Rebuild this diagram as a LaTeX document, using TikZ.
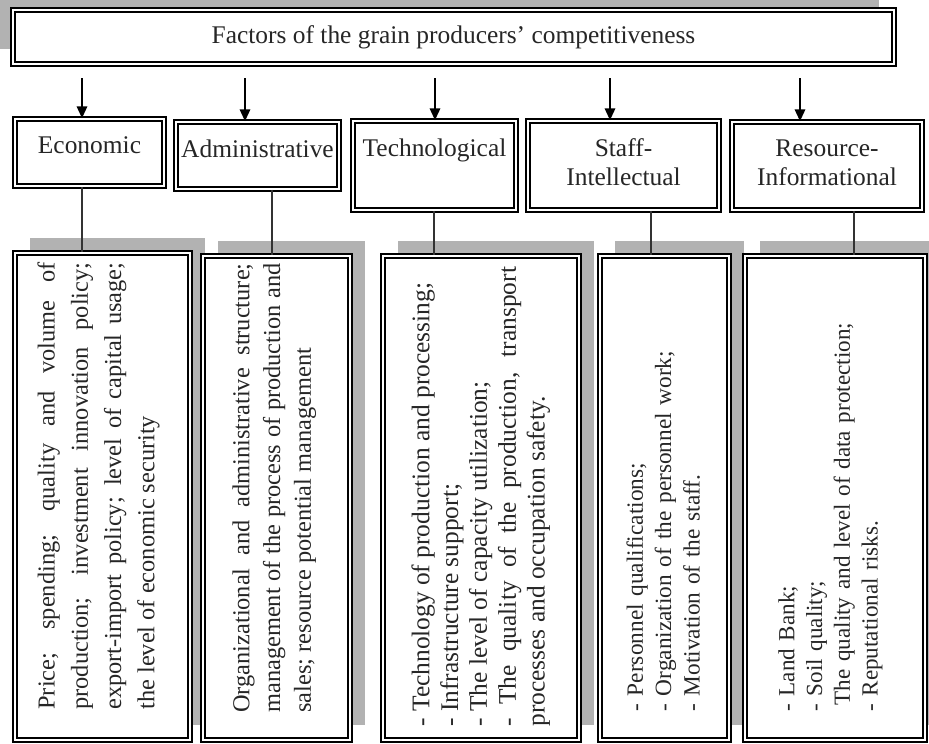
\documentclass[tikz,border=0pt]{standalone}
\usepackage{fontspec}
\setmainfont{Liberation Serif}
\usetikzlibrary{arrows.meta,positioning,fit,shadows}
\hyphenpenalty=10000
\exhyphenpenalty=10000

\tikzset{
  box/.style={draw=black, double=white, line width=0.9pt, double distance=1.2pt, fill=white, inner sep=0pt},
  headbox/.style={box, drop shadow={shadow xshift=-7pt, shadow yshift=7pt, fill=black!30, opacity=1}},
  listbox/.style={box, drop shadow={shadow xshift=7pt, shadow yshift=7pt, fill=black!30, opacity=1}},
  grptext/.style={inner sep=0pt, align=center, font=\fontsize{12pt}{13.8pt}\selectfont, text=black!85},
  detail/.style n args={3}{rotate=90, anchor=north west, inner sep=0pt, text width=#1, align=justify,
    font=\fontsize{#2}{#3}\selectfont, text=black!85},
  arr/.style={-{Triangle[width=5pt,length=5.5pt]}, line width=0.6pt},
  link/.style={line width=0.6pt, black!80}
}

\begin{document}
\begin{tikzpicture}[x=0.472pt,y=-0.472pt]
  \useasboundingbox (0,0) rectangle (929,743);

  % heading
  \node[headbox, minimum width=415.8pt, minimum height=25.5pt,
        font=\fontsize{12pt}{14pt}\selectfont, text=black!85] (title) at (453.5,37)
    {Factors of the grain producers' competitiveness};

  % groups of factors
  \node[box, fit={(15,119) (164,186)}] (econ) {};
  \node[box, fit={(176,122) (339,189)}] (admin) {};
  \node[box, fit={(353,121) (516,210)}] (tech) {};
  \node[box, fit={(528,121) (719,210)}] (staff) {};
  \node[box, fit={(732,122) (922,210)}] (res) {};

  \node[grptext, below=8.5pt of econ.north] (econt) {Economic};
  \node[grptext, below=8.5pt of admin.north] (admint) {Administrative};
  \node[grptext, below=8.5pt of tech.north] (techt) {Technological};
  \node[grptext, below=8.5pt of staff.north] (stafft) {Staff-\\Intellectual};
  \node[grptext, below=8.5pt of res.north] (rest) {Resource-\\Informational};

  % arrows from the heading
  \coordinate (a1) at (82,78);
  \coordinate (a2) at (245,78);
  \coordinate (a3) at (435,78);
  \coordinate (a4) at (610,78);
  \coordinate (a5) at (800,78);
  \draw[arr] (a1) -- (a1 |- econ.north);
  \draw[arr] (a2) -- (a2 |- admin.north);
  \draw[arr] (a3) -- (a3 |- tech.north);
  \draw[arr] (a4) -- (a4 |- staff.north);
  \draw[arr] (a5) -- (a5 |- res.north);

  % lists of factors
  \node[listbox, fit={(15,253) (190,740)}] (econd) {};
  \node[listbox, fit={(203,256) (350,740)}] (admind) {};
  \node[listbox, fit={(383,256) (579,740)}] (techd) {};
  \node[listbox, fit={(600,256) (729,740)}] (staffd) {};
  \node[listbox, fit={(745,256) (925,740)}] (resd) {};

  \coordinate (b1) at (82,0);
  \coordinate (b2) at (272,0);
  \coordinate (b3) at (434,0);
  \coordinate (b4) at (651,0);
  \coordinate (b5) at (854,0);
  \draw[link] (econ.south -| b1) -- (econd.north -| b1);
  \draw[link] (admin.south -| b2) -- (admind.north -| b2);
  \draw[link] (tech.south -| b3) -- (techd.north -| b3);
  \draw[link] (staff.south -| b4) -- (staffd.north -| b4);
  \draw[link] (res.south -| b5) -- (resd.north -| b5);

  \node[detail={211pt}{11.5pt}{15.7pt}] (econl) at (37,710)
    {Price; spending; quality and volume of\linebreak
     production; investment innovation policy;\linebreak
     export-import policy; level of capital usage;\linebreak
     the level of economic security};
  \node[detail={212pt}{11.5pt}{14.5pt}] (adminl) at (232,713)
    {Organizational and administrative structure;\linebreak
     management of the process of production and\linebreak
     sales; resource potential management};
  \node[detail={217pt}{12pt}{13.6pt}] (techl) at (411,727)
    {- Technology of production and processing;\\
     - Infrastructure support;\\
     - The level of capacity utilization;\\
     - The quality of the production, transport\linebreak
     processes and occupation safety.};
  \node[detail={230pt}{11pt}{13.4pt}, align=left] (staffl) at (626,712)
    {- Personnel qualifications;\\
     - Organization of the personnel work;\\
     - Motivation of the staff.};
  \node[detail={230pt}{10.9pt}{13.1pt}, align=left] (resl) at (778,712)
    {- Land Bank;\\
     - Soil quality;\\
     \hspace*{3pt}The quality and level of data protection;\\
     - Reputational risks.};
\end{tikzpicture}
\end{document}
